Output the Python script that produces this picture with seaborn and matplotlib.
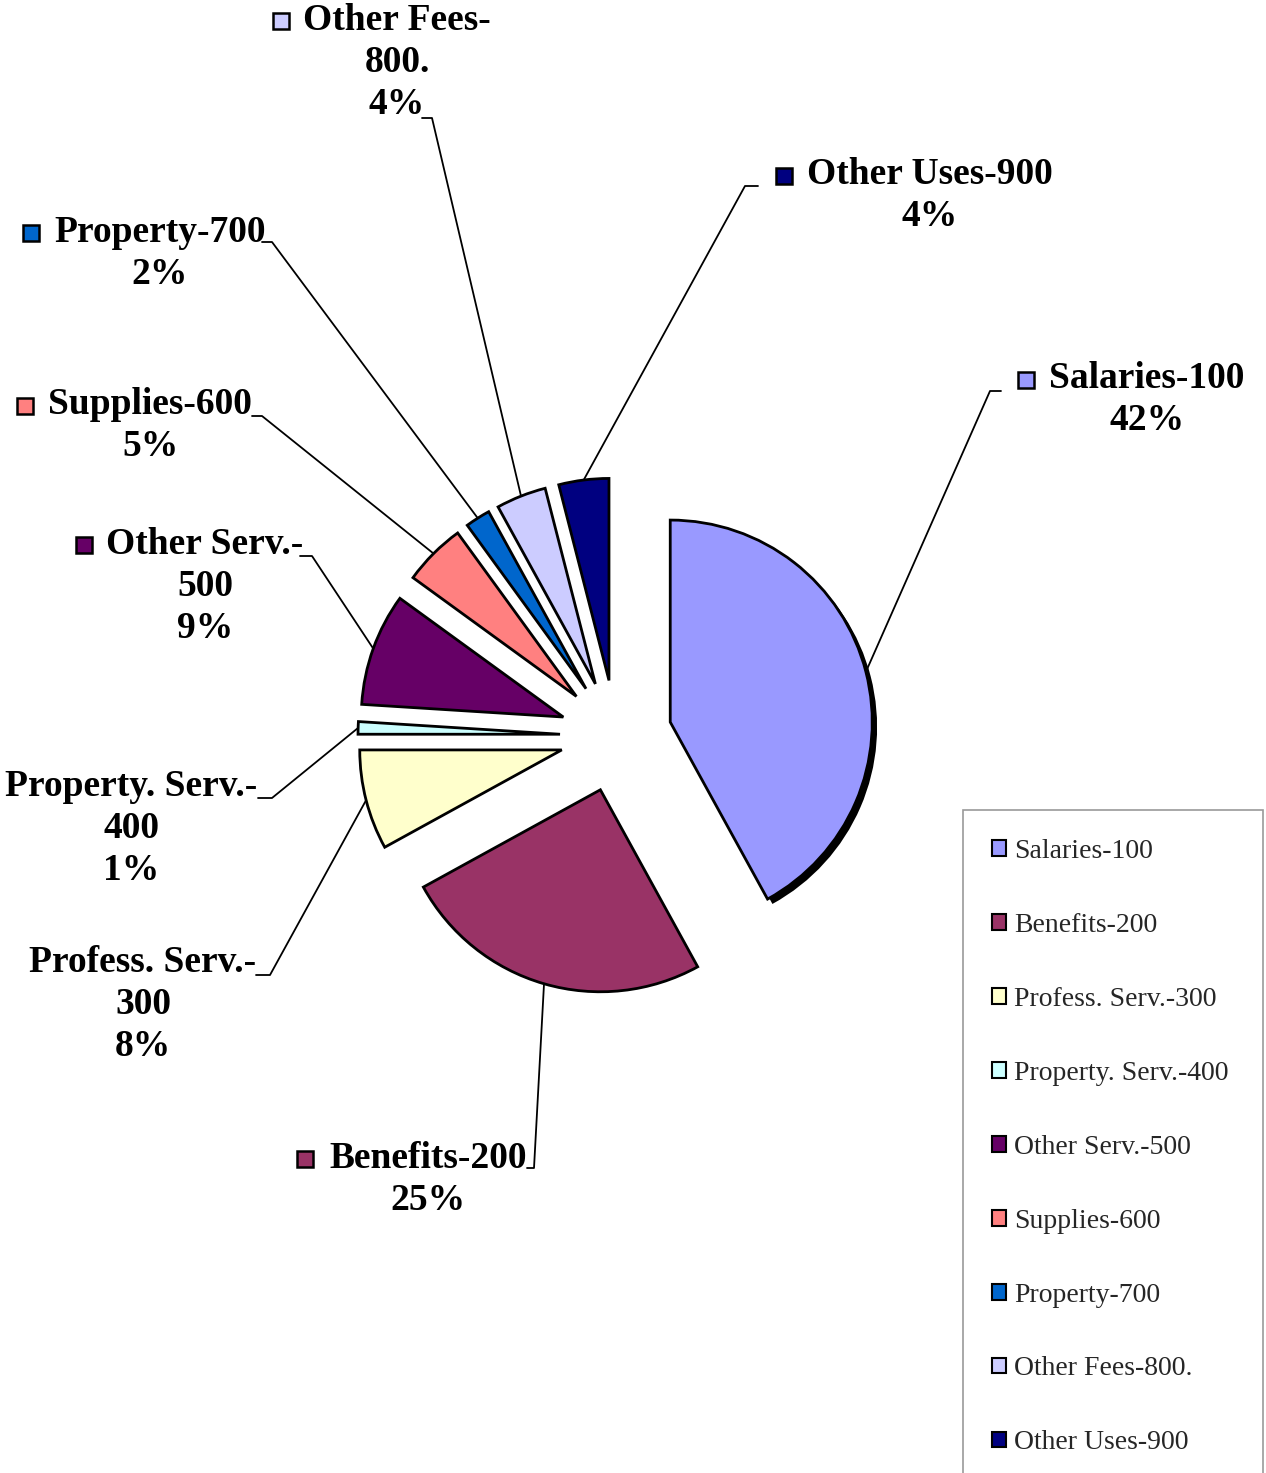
import matplotlib
matplotlib.use("Agg")
import matplotlib.pyplot as plt
import matplotlib.patheffects as pe
from matplotlib.patches import Rectangle
import numpy as np
import seaborn as sns

sns.set_theme(style="white")
plt.rcParams["font.family"] = ["Liberation Serif", "DejaVu Serif"]

# ---------------------------------------------------------
# data
# ---------------------------------------------------------
categories = ["Salaries-100", "Benefits-200", "Profess. Serv.-300",
              "Property. Serv.-400", "Other Serv.-500", "Supplies-600",
              "Property-700", "Other Fees-800.", "Other Uses-900"]
shares = [42, 25, 8, 1, 9, 5, 2, 4, 4]
label_lines = [["Salaries-100"], ["Benefits-200"], ["Profess. Serv.-", "300"],
               ["Property. Serv.-", "400"], ["Other Serv.-", "500"],
               ["Supplies-600"], ["Property-700"], ["Other Fees-", "800."],
               ["Other Uses-900"]]
colors = ["#9999FF", "#993366", "#FFFFCC", "#CCFFFF", "#660066",
          "#FF8080", "#0066CC", "#CCCCFF", "#000080"]

# ---------------------------------------------------------
# layout (image pixel coords, y downwards)
# ---------------------------------------------------------
W, H = 1266, 1473
CX, CY, R = 616, 736, 202
EXPLODE = 56  # pixels, matplotlib uses data units

# text centre x, first-line y, leader start (x, y), elbow x, key square x (None = hidden)
label_pos = [
    (1147, 379, (1001, 391), 990, 1026),
    (428, 1158, (527, 1168), 534, 305),
    (143, 963, (256, 975), 270, None),
    (131, 787, (258, 798), 272, None),
    (205, 544, (300, 556), 312, 84),
    (150, 405, (252, 416), 262, 25),
    (160, 232, (262, 242), 272, 31),
    (397, 20, (422, 118), 432, 281),
    (930, 175, (758, 186), 745, 784),
]
LINE_H = 42


def fy(y):
    return H - y


fig = plt.figure(figsize=(W / 100, H / 100), dpi=100)
ax = fig.add_axes([0, 0, 1, 1])

wedges, _ = ax.pie(shares, colors=colors, startangle=90, counterclock=False,
                   explode=[EXPLODE] * len(shares), radius=R,
                   center=(CX, fy(CY)),
                   wedgeprops=dict(edgecolor="black", linewidth=2))

# shadow on the big slice only
wedges[0].set_path_effects([
    pe.SimplePatchShadow(offset=(3.5, -3.5), shadow_rgbFace="black", alpha=1.0),
    pe.Normal()])

for w, lines, share, col, (tx, ty, (sx, sy), ex, kx) in zip(
        wedges, label_lines, shares, colors, label_pos):
    all_lines = lines + [f"{share}%"]
    for i, s in enumerate(all_lines):
        ax.text(tx, fy(ty + i * LINE_H), s, ha="center", va="center",
                fontsize=27, fontweight="bold", color="black")
    if kx is not None:
        ax.add_patch(Rectangle((kx - 8, fy(ty) - 9), 16, 16,
                               facecolor=col, edgecolor="black", lw=1.8))
    # leader line to the middle of the outer arc
    th = np.deg2rad((w.theta1 + w.theta2) / 2)
    px = w.center[0] + w.r * np.cos(th)
    py = w.center[1] + w.r * np.sin(th)
    ax.plot([sx, ex, px], [fy(sy), fy(sy), py], color="black", lw=1.3)

ax.set_xlim(0, W)
ax.set_ylim(0, H)
ax.set_aspect("equal")
ax.axis("off")

leg = fig.legend(wedges, categories, loc="upper left",
                 bbox_to_anchor=(963 / W, 1 - 810 / H, 300 / W, 0.0),
                 mode="expand",
                 prop={"family": "Liberation Serif", "size": 20},
                 frameon=True, fancybox=False, edgecolor="#808080",
                 labelspacing=1.76, handlelength=0.5, handleheight=0.5,
                 handletextpad=0.3, borderpad=1.05, borderaxespad=0)
leg.get_frame().set_linewidth(1.2)
for h in leg.legend_handles:
    h.set_linewidth(1.5)
    h.set_path_effects([])

fig.savefig("out.png", dpi=100)
